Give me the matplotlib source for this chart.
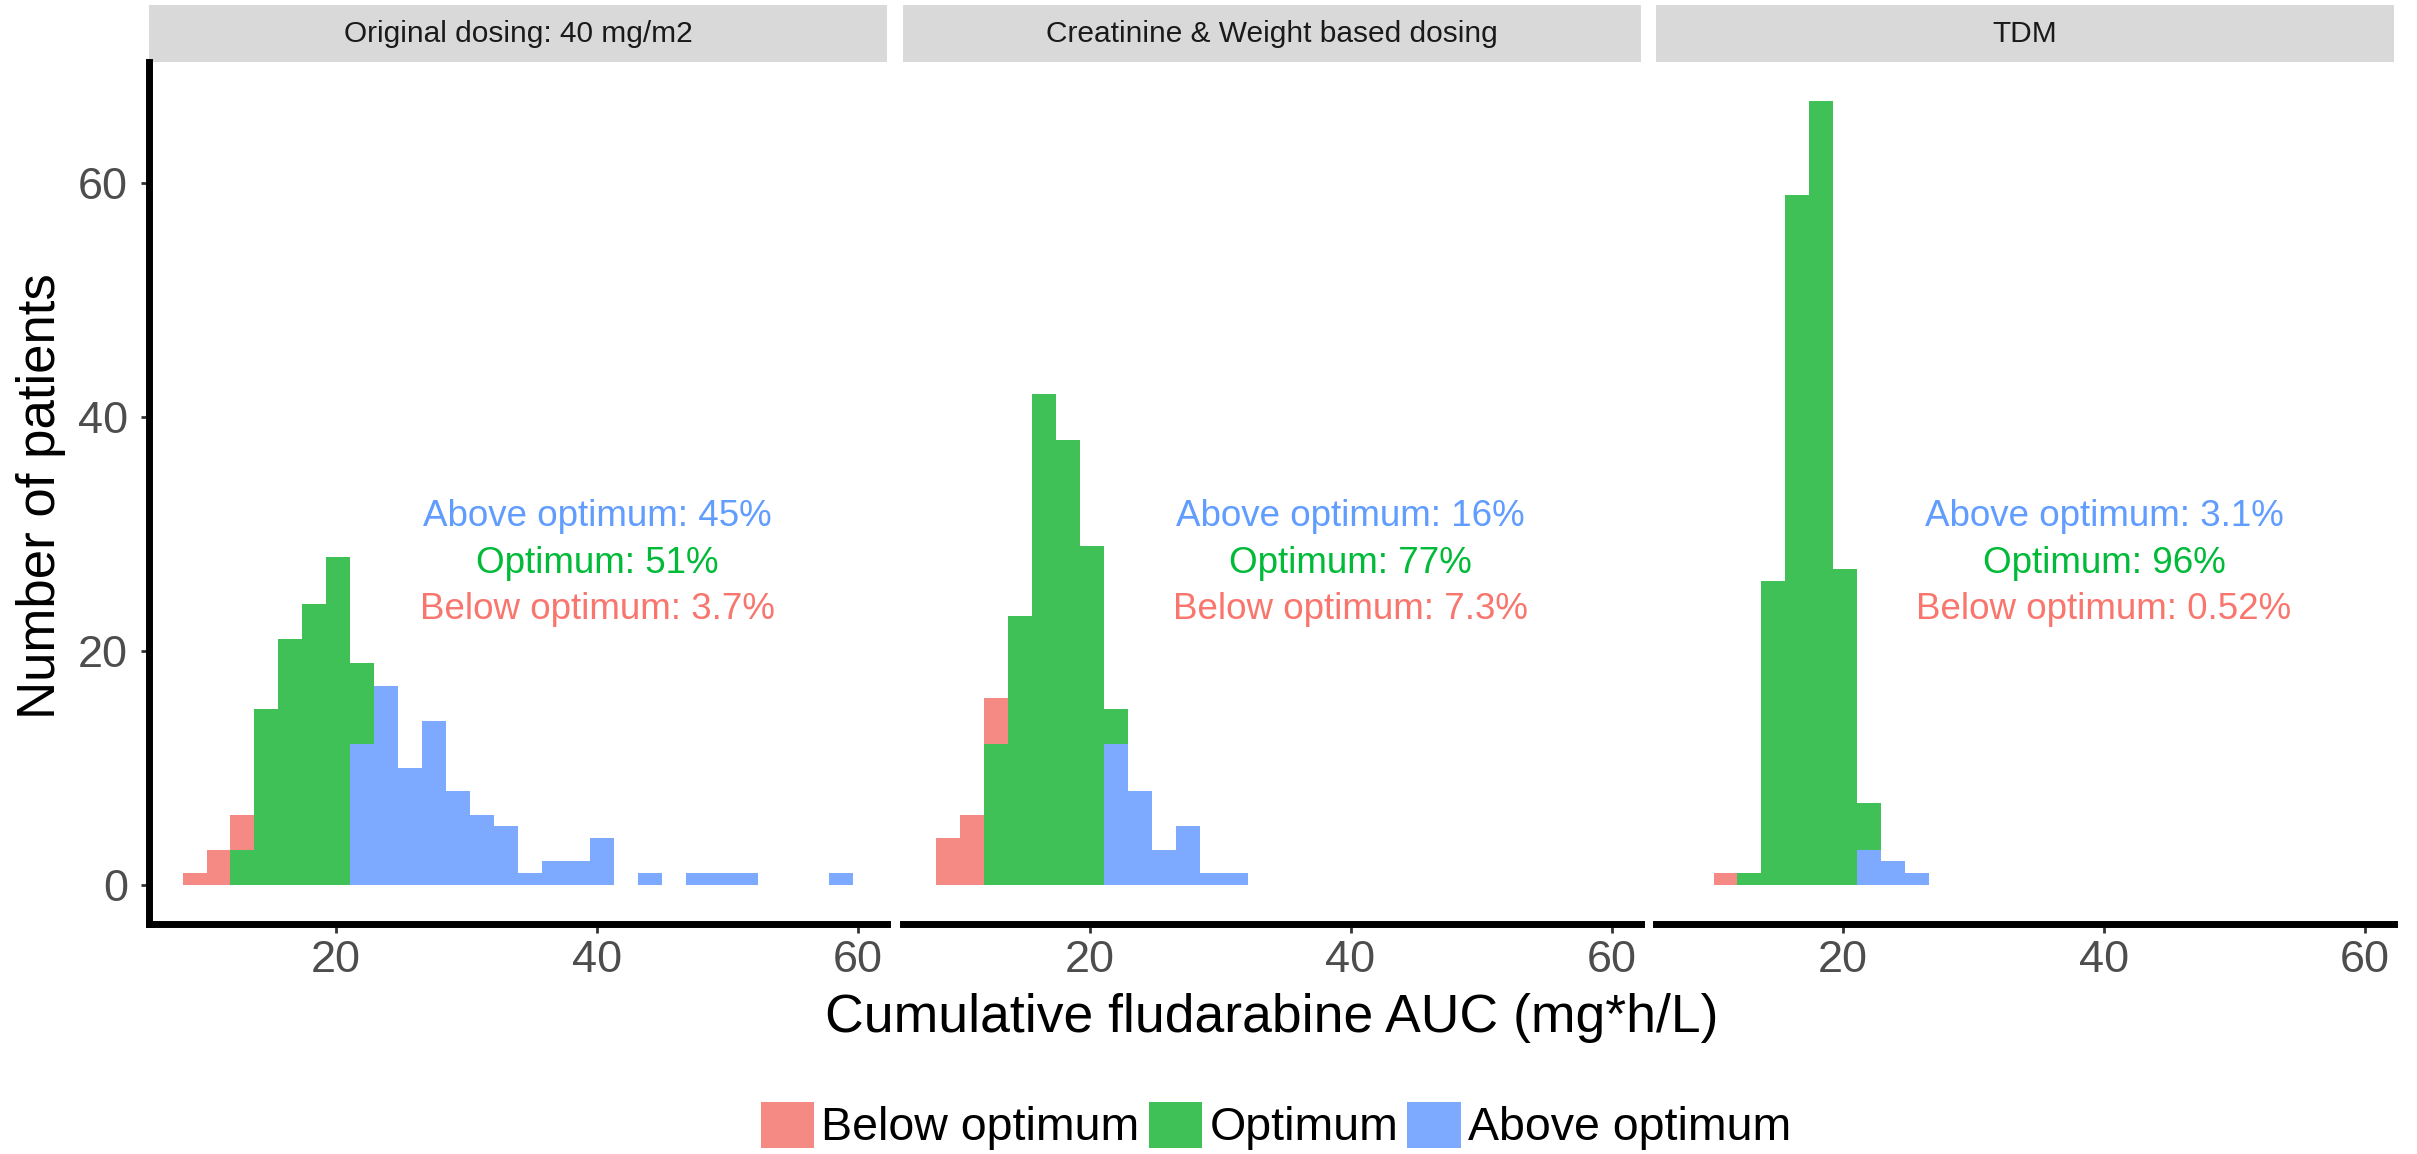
import matplotlib.pyplot as plt
from matplotlib.patches import Patch, Rectangle

plt.rcParams['font.family'] = ['Liberation Sans', 'DejaVu Sans']

# histogram bins of cumulative AUC (mg*h/L), shared by all panels
bin_start = 8.24
bin_width = 1.836
n_bins = 28

panel_titles = ['Original dosing: 40 mg/m2', 'Creatinine & Weight based dosing', 'TDM']

# counts per bin, one list per group and panel
below_orig = [1, 3, 3, 0, 0, 0, 0, 0, 0, 0, 0, 0, 0, 0, 0, 0, 0, 0, 0, 0, 0, 0, 0, 0, 0, 0, 0, 0]
optimum_orig = [0, 0, 3, 15, 21, 24, 28, 7, 0, 0, 0, 0, 0, 0, 0, 0, 0, 0, 0, 0, 0, 0, 0, 0, 0, 0, 0, 0]
above_orig = [0, 0, 0, 0, 0, 0, 0, 12, 17, 10, 14, 8, 6, 5, 1, 2, 2, 4, 0, 1, 0, 1, 1, 1, 0, 0, 0, 1]

below_crea = [4, 6, 4, 0, 0, 0, 0, 0, 0, 0, 0, 0, 0, 0, 0, 0, 0, 0, 0, 0, 0, 0, 0, 0, 0, 0, 0, 0]
optimum_crea = [0, 0, 12, 23, 42, 38, 29, 3, 0, 0, 0, 0, 0, 0, 0, 0, 0, 0, 0, 0, 0, 0, 0, 0, 0, 0, 0, 0]
above_crea = [0, 0, 0, 0, 0, 0, 0, 12, 8, 3, 5, 1, 1, 0, 0, 0, 0, 0, 0, 0, 0, 0, 0, 0, 0, 0, 0, 0]

below_tdm = [0, 1, 0, 0, 0, 0, 0, 0, 0, 0, 0, 0, 0, 0, 0, 0, 0, 0, 0, 0, 0, 0, 0, 0, 0, 0, 0, 0]
optimum_tdm = [0, 0, 1, 26, 59, 67, 27, 4, 0, 0, 0, 0, 0, 0, 0, 0, 0, 0, 0, 0, 0, 0, 0, 0, 0, 0, 0, 0]
above_tdm = [0, 0, 0, 0, 0, 0, 0, 3, 2, 1, 0, 0, 0, 0, 0, 0, 0, 0, 0, 0, 0, 0, 0, 0, 0, 0, 0, 0]

above_pct = ['45%', '16%', '3.1%']
optimum_pct = ['51%', '77%', '96%']
below_pct = ['3.7%', '7.3%', '0.52%']

groups = ['Below optimum', 'Optimum', 'Above optimum']
bar_colors = {'Below optimum': '#F58A85', 'Optimum': '#40C157', 'Above optimum': '#7DAAFF'}
text_colors = {'Below optimum': '#F8766D', 'Optimum': '#00BA38', 'Above optimum': '#619CFF'}

data = [
    {'Below optimum': below_orig, 'Optimum': optimum_orig, 'Above optimum': above_orig},
    {'Below optimum': below_crea, 'Optimum': optimum_crea, 'Above optimum': above_crea},
    {'Below optimum': below_tdm, 'Optimum': optimum_tdm, 'Above optimum': above_tdm},
]

W, H = 2417, 1154
fig = plt.figure(figsize=(W / 100, H / 100), dpi=100)

lefts = [149, 902.5, 1656]
panel_w = 738
panel_top, panel_bot = 62, 924

edges = [bin_start + i * bin_width for i in range(n_bins)]
span = n_bins * bin_width
xlim = (bin_start - 0.05 * span, bin_start + span + 0.05 * span)

for i, title in enumerate(panel_titles):
    ax = fig.add_axes([lefts[i] / W, 1 - panel_bot / H, panel_w / W, (panel_bot - panel_top) / H])
    bottom = [0] * n_bins
    # ggplot stacks the first level on top, so draw in reverse
    for g in ['Above optimum', 'Optimum', 'Below optimum']:
        vals = data[i][g]
        ax.bar(edges, vals, width=bin_width, align='edge', bottom=bottom,
               color=bar_colors[g], linewidth=0)
        bottom = [b + v for b, v in zip(bottom, vals)]

    ax.set_xlim(*xlim)
    ax.set_ylim(-3.35, 70.35)
    ax.set_xticks([20, 40, 60])
    ax.set_yticks([0, 20, 40, 60])
    for s in ['top', 'right']:
        ax.spines[s].set_visible(False)
    ax.spines['bottom'].set_linewidth(5)
    ax.spines['left'].set_linewidth(5)
    ax.tick_params(axis='x', length=6.5, width=2, color='#333333', labelsize=32.5,
                   labelcolor='#4D4D4D', pad=5)
    ax.tick_params(axis='y', length=6, width=2, color='#333333', labelsize=32.5,
                   labelcolor='#4D4D4D', pad=9)
    if i > 0:
        ax.spines['left'].set_visible(False)
        ax.tick_params(axis='y', left=False, labelleft=False)

    # facet strip
    strip_h = 57 / (panel_bot - panel_top)
    ax.add_patch(Rectangle((0, 1), 1, strip_h, transform=ax.transAxes,
                           facecolor='#D9D9D9', edgecolor='none', clip_on=False))
    ax.text(0.5, 1 + strip_h / 2, title, transform=ax.transAxes, ha='center',
            va='center', fontsize=21.5, color='#1A1A1A')

    ax.text(40, 30.7, 'Above optimum: ' + above_pct[i], ha='center', va='baseline',
            fontsize=26.5, color=text_colors['Above optimum'])
    ax.text(40, 26.7, 'Optimum: ' + optimum_pct[i], ha='center', va='baseline',
            fontsize=26.5, color=text_colors['Optimum'])
    ax.text(40, 22.7, 'Below optimum: ' + below_pct[i], ha='center', va='baseline',
            fontsize=26.5, color=text_colors['Below optimum'])

fig.text(41 / W, 1 - 496 / H, 'Number of patients', rotation=90, ha='center',
         va='center', fontsize=38)
fig.text(1272 / W, 1 - 1018 / H, 'Cumulative fludarabine AUC (mg*h/L)', ha='center',
         va='center', fontsize=38.5)

handles = [Patch(facecolor=bar_colors[g], edgecolor='none', label=g) for g in groups]
fig.legend(handles=handles, loc='center', bbox_to_anchor=(1276 / W, 1 - 1126 / H),
           ncol=3, frameon=False, fontsize=33.5, handlelength=1.15, handleheight=1.14,
           handletextpad=0.15, columnspacing=0.2, borderpad=0, borderaxespad=0)

fig.savefig('out.png', dpi=100)
